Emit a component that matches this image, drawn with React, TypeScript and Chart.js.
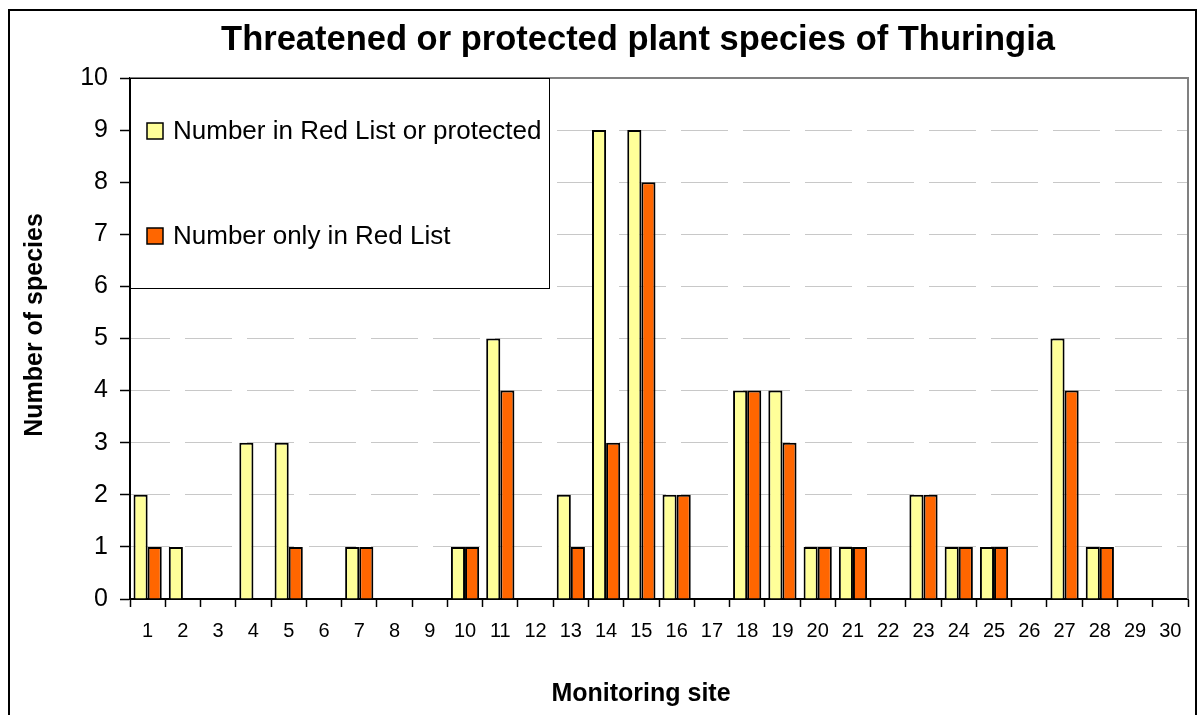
import React, { useEffect, useRef } from "react";
import { Chart, registerables } from "chart.js";

Chart.register(...registerables);

const sites = [
  "1", "2", "3", "4", "5", "6", "7", "8", "9", "10",
  "11", "12", "13", "14", "15", "16", "17", "18", "19", "20",
  "21", "22", "23", "24", "25", "26", "27", "28", "29", "30",
];
const redListOrProtected = [2, 1, 0, 3, 3, 0, 1, 0, 0, 1, 5, 0, 2, 9, 9, 2, 0, 4, 4, 1, 1, 0, 2, 1, 1, 0, 5, 1, 0, 0];
const onlyRedList = [1, 0, 0, 0, 1, 0, 1, 0, 0, 1, 4, 0, 1, 3, 8, 2, 0, 4, 3, 1, 1, 0, 2, 1, 1, 0, 4, 1, 0, 0];
const seriesLabels = ["Number in Red List or protected", "Number only in Red List"];
const titleText = "Threatened or protected plant species of Thuringia";
const xTitle = "Monitoring site";
const yTitle = "Number of species";

const FONT = "'Liberation Sans', Arial, sans-serif";
const YELLOW = "#FFFF99";
const ORANGE = "#FF6600";

const decorPlugin = {
  id: "decor",
  afterDraw(chart: any) {
    const ctx = chart.ctx;
    const ca = chart.chartArea;
    ctx.save();
    // plot area grey border (top & right)
    ctx.strokeStyle = "#808080";
    ctx.lineWidth = 2;
    ctx.beginPath();
    ctx.moveTo(ca.left, ca.top);
    ctx.lineTo(ca.right, ca.top);
    ctx.lineTo(ca.right, ca.bottom);
    ctx.stroke();

    // legend box
    const lx = ca.left;
    const ly = ca.top;
    const lw = 419;
    const lh = 210;
    ctx.fillStyle = "#FFFFFF";
    ctx.fillRect(lx, ly, lw, lh);
    ctx.strokeStyle = "#000000";
    ctx.lineWidth = 1;
    ctx.strokeRect(lx + 0.5, ly + 0.5, lw, lh);
    const colors = [YELLOW, ORANGE];
    const rows = [53, 158];
    ctx.font = `26px ${FONT}`;
    ctx.textBaseline = "middle";
    ctx.textAlign = "left";
    seriesLabels.forEach((lab, i) => {
      const cy = ly + rows[i];
      ctx.fillStyle = colors[i];
      ctx.fillRect(lx + 17, cy - 8, 16, 16);
      ctx.strokeStyle = "#000";
      ctx.lineWidth = 1.5;
      ctx.strokeRect(lx + 17, cy - 8, 16, 16);
      ctx.fillStyle = "#000";
      ctx.fillText(lab, lx + 43, cy + 1);
    });

    // title
    ctx.font = `bold 34.5px ${FONT}`;
    ctx.textAlign = "center";
    ctx.textBaseline = "middle";
    ctx.fillStyle = "#000";
    ctx.fillText(titleText, 638, 40);

    // x axis title
    ctx.font = `bold 25px ${FONT}`;
    ctx.fillText(xTitle, 641, 694);

    // y axis title
    ctx.save();
    ctx.translate(35, 325);
    ctx.rotate(-Math.PI / 2);
    ctx.fillText(yTitle, 0, 0);
    ctx.restore();

    // outer border
    ctx.strokeStyle = "#000";
    ctx.lineWidth = 2;
    ctx.strokeRect(9, 10, 1187, 720);
    ctx.restore();
  },
};

export default function App() {
  const ref = useRef<HTMLCanvasElement | null>(null);
  useEffect(() => {
    if (!ref.current) return;
    const chart = new Chart(ref.current, {
      type: "bar",
      data: {
        labels: sites,
        datasets: [
          {
            label: seriesLabels[0],
            data: redListOrProtected,
            backgroundColor: YELLOW,
            borderColor: "#000",
            borderWidth: 2,
            categoryPercentage: 0.8,
            barPercentage: 1,
          },
          {
            label: seriesLabels[1],
            data: onlyRedList,
            backgroundColor: ORANGE,
            borderColor: "#000",
            borderWidth: 2,
            categoryPercentage: 0.8,
            barPercentage: 1,
          },
        ],
      },
      options: {
        animation: false,
        responsive: false,
        maintainAspectRatio: false,
        layout: { padding: { left: 20, right: 12, top: 78, bottom: 6 } },
        plugins: {
          legend: { display: false },
          title: { display: false },
          tooltip: { enabled: false },
        },
        scales: {
          x: {
            type: "category",
            grid: {
              offset: true,
              drawOnChartArea: false,
              drawTicks: true,
              tickLength: 8,
              tickColor: "#000",
              tickWidth: 1.5,
            },
            border: { display: true, color: "#000", width: 2 },
            ticks: {
              font: { family: FONT, size: 20 },
              color: "#000",
              padding: 12,
              maxRotation: 0,
              autoSkip: false,
            },
            title: { display: false },
            afterFit: (s: any) => {
              s.height = 110;
            },
          },
          y: {
            min: 0,
            max: 10,
            grid: {
              color: "#C8C8C8",
              lineWidth: 1,
              tickColor: "#000",
              tickLength: 10,
              tickWidth: 1.5,
              tickBorderDash: [],
            },
            border: { display: true, color: "#000", width: 2, dash: [47, 15], dashOffset: 8 },
            ticks: {
              stepSize: 1,
              font: { family: FONT, size: 25 },
              color: "#000",
              padding: 12,
            },
            title: { display: false },
            afterFit: (s: any) => {
              s.width = 110;
            },
          },
        },
      } as any,
      plugins: [decorPlugin],
    });
    return () => chart.destroy();
  }, []);
  return (
    <div style={{ position: "fixed", left: 0, top: 0, width: 1200, height: 715, background: "#fff" }}>
      <canvas ref={ref} width={1200} height={715} style={{ width: 1200, height: 715, display: "block" }} />
    </div>
  );
}
